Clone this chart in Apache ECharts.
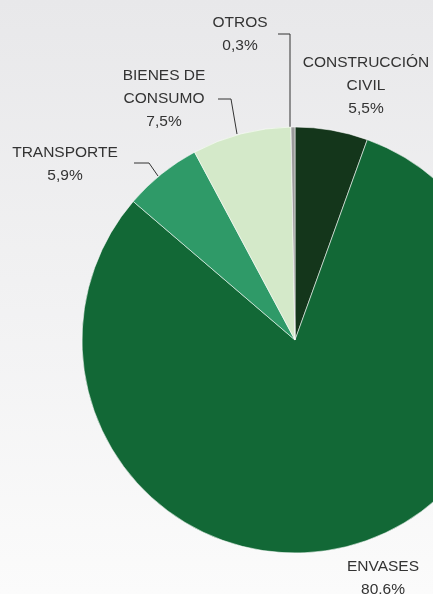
<!DOCTYPE html>
<html>
<head>
<meta charset="utf-8">
<script src="https://cdn.jsdelivr.net/npm/echarts@6/dist/echarts.min.js"></script>
<style>
  html, body { margin: 0; padding: 0; }
  #chart { width: 433px; height: 594px; }
</style>
</head>
<body>
<div id="chart"></div>
<script>
// datos del gráfico
const sectores = ['CONSTRUCCIÓN\nCIVIL', 'ENVASES', 'TRANSPORTE', 'BIENES DE\nCONSUMO', 'OTROS']
const porcentajes = [5.5, 80.6, 5.9, 7.5, 0.3]
const etiquetas = ['5,5%', '80.6%', '5,9%', '7,5%', '0,3%']
const colores = ['#14361b', '#126836', '#2f9a68', '#d4e9c9', '#9a9a9a']

// posición de cada etiqueta y su línea guía
const posEtiquetas = [
    { x: 366, y: 86, line: null },
    { x: 383, y: 578, line: null },
    { x: 65, y: 164, line: [[158, 176], [149, 163], [134, 163]] },
    { x: 164, y: 99, line: [[237, 134], [231, 99], [218, 99]] },
    { x: 240, y: 34, line: [[290, 127], [290, 34], [278, 34]] },
]

const chart = echarts.init(document.getElementById('chart'))

const pieData = sectores.map((name, i) => ({
    name: name,
    value: porcentajes[i],
    itemStyle: { color: colores[i] },
    label: { formatter: name + '\n' + etiquetas[i] },
    labelLine: { show: posEtiquetas[i].line !== null },
}))

chart.setOption({
    backgroundColor: {
        type: 'linear', x: 0, y: 0, x2: 0, y2: 1,
        colorStops: [
            { offset: 0, color: '#e8e8ea' },
            { offset: 1, color: '#fbfbfb' },
        ],
    },
    animation: false,
    series: [
        {
            type: 'pie',
            center: [295, 340],
            radius: 213,
            startAngle: 90,
            clockwise: true,
            itemStyle: {
                borderColor: 'rgba(255,255,255,0.7)',
                borderWidth: 0.8,
            },
            label: {
                show: true,
                position: 'outside',
                overflow: 'none',
                color: '#333',
                fontFamily: 'Liberation Sans, Arial, sans-serif',
                fontSize: 15.5,
                lineHeight: 23,
                align: 'center',
            },
            labelLine: {
                lineStyle: { color: '#333', width: 1 },
            },
            labelLayout: function (params) {
                const p = posEtiquetas[params.dataIndex]
                const res = { x: p.x, y: p.y, align: 'center', verticalAlign: 'middle' }
                if (p.line) res.labelLinePoints = p.line
                return res
            },
            data: pieData,
        },
    ],
})
</script>
</body>
</html>
